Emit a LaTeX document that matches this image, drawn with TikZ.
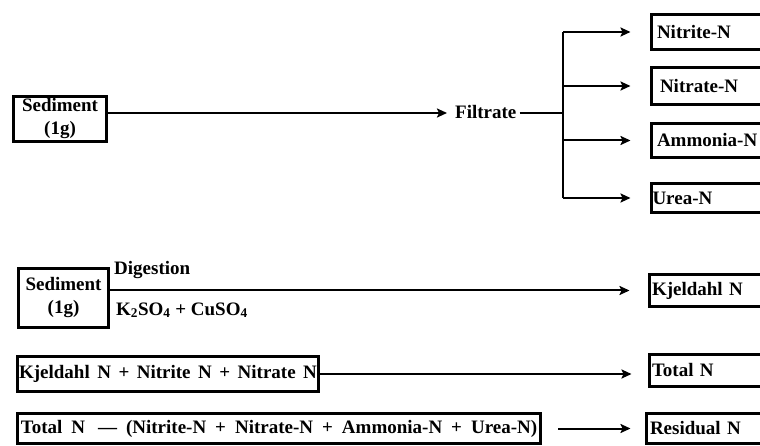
\documentclass[tikz,border=0pt]{standalone}
\usepackage{fontspec}
\setmainfont{Liberation Serif}
\usetikzlibrary{arrows.meta}
\newcommand\myWideSpace{\spaceskip=9pt\relax}
\newcommand\myMidSpace{\spaceskip=7.5pt\relax}
\begin{document}
\begin{tikzpicture}[x=1pt,y=-1pt,
  bx/.style={draw, line width=3pt, inner sep=0pt, font=\fontsize{19}{23}\selectfont\bfseries},
  rbox/.style={bx, anchor=west, text width=130pt, align=left, inner xsep=4pt},
  lbl/.style={inner sep=0pt, font=\fontsize{19}{23}\selectfont\bfseries},
  ln/.style={line width=2pt},
  arr/.style={line width=2pt, -{Stealth[length=10pt,width=9pt,inset=2pt]}}]
\clip (0,0) rectangle (760,446);
\fill[white] (0,0) rectangle (760,446);
% row 1
\node[bx, minimum width=93pt, minimum height=45pt, align=center] (sed1) at (60,119) {Sediment\\(1g)};
\node[lbl, anchor=base west] (filt) at (455,119) {Filtrate};
\node[rbox, minimum height=35pt, inner xsep=6pt] (nitrite) at (649.5,32) {Nitrite-N};
\node[rbox, minimum height=37pt, inner xsep=9pt] (nitrate) at (649.5,86) {Nitrate-N};
\node[rbox, minimum height=34pt, inner xsep=6pt] (ammonia) at (649.5,140.5) {Ammonia-N};
\node[rbox, minimum height=29pt, inner xsep=1.5pt] (urea) at (649.5,198) {Urea-N};
\coordinate (jn) at (563,113);
\draw[arr] (sed1.east |- jn) -- ([xshift=-8pt]filt.west |- jn);
\draw[ln] ([xshift=3pt]filt.east |- jn) -- (jn);
\draw[ln] (jn |- nitrite.west) -- (jn |- urea.west);
\draw[arr] (jn |- nitrite.west) -- ([xshift=-19pt]nitrite.west);
\draw[arr] (jn |- nitrate.west) -- ([xshift=-19pt]nitrate.west);
\draw[arr] (jn |- ammonia.west) -- ([xshift=-19pt]ammonia.west);
\draw[arr] (jn |- urea.west) -- ([xshift=-19pt]urea.west);
% row 2
\node[bx, minimum width=90pt, minimum height=59pt, align=center, font=\fontsize{19}{23}\selectfont\bfseries] (sed2) at (63.5,298) {Sediment\\(1g)};
\node[rbox, minimum height=32pt, inner xsep=3pt] (kj) at (647.5,290.5) {Kjeldahl N};
\node[lbl, anchor=base west] (dig) at (114,275) {Digestion};
\node[lbl, anchor=base west] (salt) at (116,315) {K\textsubscript{2}SO\textsubscript{4} + CuSO\textsubscript{4}};
\draw[arr] (sed2.east |- kj.west) -- ([xshift=-18pt]kj.west);
% row 3
\node[bx, minimum width=301pt, minimum height=35pt, font=\fontsize{19}{23}\selectfont\bfseries\myMidSpace] (k3) at (168,374) {Kjeldahl N + Nitrite N + Nitrate N};
\node[rbox, minimum height=32pt, inner xsep=3pt] (tot) at (647.5,370.5) {Total N};
\draw[arr] (k3.east) -- ([xshift=-16pt]k3.east -| tot.west);
% row 4
\node[bx, minimum width=523pt, minimum height=30pt, font=\fontsize{19}{23}\selectfont\bfseries\myWideSpace] (tn) at (279,428.5) {Total N\hspace{4pt} \textemdash\ (Nitrite-N + Nitrate-N + Ammonia-N + Urea-N)};
\node[rbox, minimum height=30pt, inner xsep=4pt] (res) at (644.5,428.5) {Residual N};
\draw[arr] ([xshift=16pt]tn.east |- res.west) -- ([xshift=-14pt]res.west);
\end{tikzpicture}
\end{document}
